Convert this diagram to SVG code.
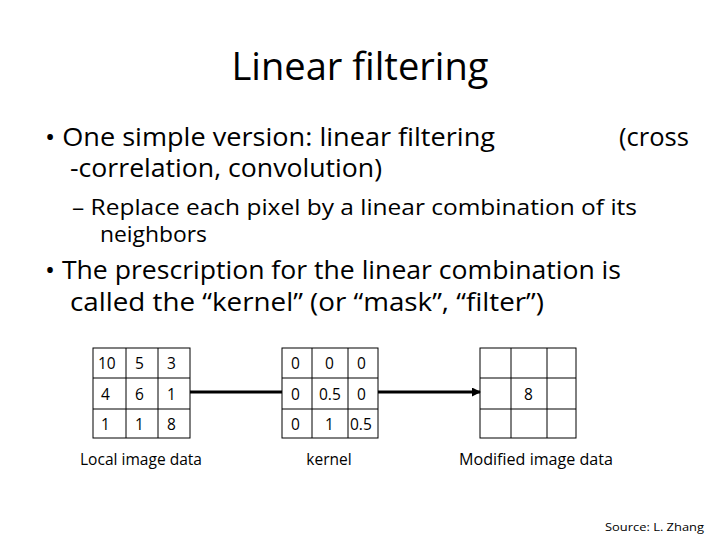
<svg xmlns="http://www.w3.org/2000/svg" width="720" height="540" viewBox="0 0 720 540">
<style>
text{font-family:"Open Sans","Liberation Sans",sans-serif;fill:#000}
.t{font-size:38px}
.b{font-size:25px}
.s{font-size:21px}
.c{font-size:15.5px}
.g line,.g rect{stroke:#000;stroke-width:1;fill:none}
</style>
<defs><marker id="ah" markerWidth="9" markerHeight="9" refX="8" refY="4.5" orient="auto" markerUnits="userSpaceOnUse"><path d="M0,0 L9,4.5 L0,9 z" fill="#000"/></marker></defs>
<rect width="720" height="540" fill="#fff"/>
<text class="t" x="360" y="80" text-anchor="middle" textLength="257" lengthAdjust="spacingAndGlyphs">Linear filtering</text>
<text class="b" x="45" y="146" textLength="450" lengthAdjust="spacingAndGlyphs">• One simple version:  linear filtering</text>
<text class="b" x="619" y="146" textLength="70" lengthAdjust="spacingAndGlyphs">(cross</text>
<text class="b" x="70" y="177" textLength="312" lengthAdjust="spacingAndGlyphs">-correlation, convolution)</text>
<text class="s" x="72" y="215" textLength="565" lengthAdjust="spacingAndGlyphs">– Replace each pixel by a linear combination of its</text>
<text class="s" x="100" y="242" textLength="107" lengthAdjust="spacingAndGlyphs">neighbors</text>
<text class="b" x="45" y="279" textLength="576" lengthAdjust="spacingAndGlyphs">• The prescription for the linear combination is</text>
<text class="b" x="70" y="311" textLength="474" lengthAdjust="spacingAndGlyphs">called the “kernel” (or “mask”, “filter”)</text>
<g id="local" class="g">
<rect x="93" y="348" width="97" height="90"/>
<line x1="126" y1="348" x2="126" y2="438"/><line x1="158" y1="348" x2="158" y2="438"/>
<line x1="93" y1="378" x2="190" y2="378"/><line x1="93" y1="409" x2="190" y2="409"/>
<g class="c"><text x="98" y="369">10</text><text x="135" y="369">5</text><text x="167" y="369">3</text>
<text x="101" y="400">4</text><text x="135" y="400">6</text><text x="167" y="400">1</text>
<text x="101" y="430">1</text><text x="135" y="430">1</text><text x="167" y="430">8</text></g>
<text class="c" x="141" y="465" text-anchor="middle" textLength="122" lengthAdjust="spacingAndGlyphs">Local image data</text>
</g>
<g id="kernel" class="g">
<rect x="282" y="348" width="96" height="90"/>
<line x1="312" y1="348" x2="312" y2="438"/><line x1="348" y1="348" x2="348" y2="438"/>
<line x1="282" y1="378" x2="378" y2="378"/><line x1="282" y1="409" x2="378" y2="409"/>
<g class="c"><text x="291" y="369">0</text><text x="325" y="369">0</text><text x="357" y="369">0</text>
<text x="291" y="400">0</text><text x="319" y="400">0.5</text><text x="357" y="400">0</text>
<text x="291" y="430">0</text><text x="325" y="430">1</text><text x="350" y="430">0.5</text></g>
<text class="c" x="329" y="465" text-anchor="middle">kernel</text>
</g>
<g id="modified" class="g">
<rect x="480" y="348" width="96" height="90"/>
<line x1="511" y1="348" x2="511" y2="438"/><line x1="547" y1="348" x2="547" y2="438"/>
<line x1="480" y1="378" x2="576" y2="378"/><line x1="480" y1="409" x2="576" y2="409"/>
<text class="c" x="524" y="400">8</text>
<text class="c" x="536" y="465" text-anchor="middle" textLength="154" lengthAdjust="spacingAndGlyphs">Modified image data</text>
</g>
<g id="connectors" stroke="#000" stroke-width="3">
<line x1="190" y1="392" x2="282" y2="392"/>
<line x1="378" y1="392" x2="480" y2="392" marker-end="url(#ah)"/>
</g>
<text x="704" y="531" text-anchor="end" style="font-size:11.5px" textLength="99" lengthAdjust="spacingAndGlyphs">Source: L. Zhang</text>
</svg>
